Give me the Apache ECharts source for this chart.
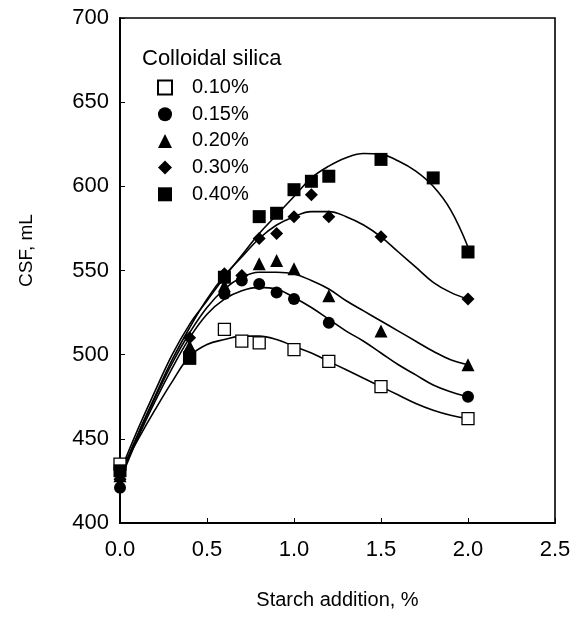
<!DOCTYPE html>
<html>
<head>
<meta charset="utf-8">
<script src="https://cdn.jsdelivr.net/npm/echarts@6/dist/echarts.min.js"></script>
<style>html,body{margin:0;padding:0;background:#fff}#c{width:577px;height:617px}</style>
</head>
<body>
<div id="c"></div>
<script>
// ---- data ----
const seriesNames = ['0.10%', '0.15%', '0.20%', '0.30%', '0.40%'];
const xTicks = [0.0, 0.5, 1.0, 1.5, 2.0, 2.5];
const yTicks = [400, 450, 500, 550, 600, 650, 700];

// measured points [starch %, CSF mL]
const pts010 = [[0,435],[0.4,498],[0.6,515],[0.7,508],[0.8,507],[1.0,503],[1.2,496],[1.5,481],[2.0,462]];
const pts015 = [[0,421],[0.4,501],[0.6,536],[0.7,544],[0.8,542],[0.9,537],[1.0,533],[1.2,519],[2.0,475]];
const pts020 = [[0,428],[0.4,505],[0.6,541],[0.8,554],[0.9,556],[1.0,551],[1.2,535],[1.5,514],[2.0,494]];
const pts030 = [[0,426],[0.4,510],[0.6,548],[0.7,547],[0.8,569],[0.9,572],[1.0,582],[1.1,595],[1.2,582],[1.5,570],[2.0,533]];
const pts040 = [[0,431],[0.4,498],[0.6,546],[0.8,582],[0.9,584],[1.0,598],[1.1,603],[1.2,606],[1.5,616],[1.8,605],[2.0,561]];

// fitted curves
const curveX = [0,0.1,0.2,0.3,0.4,0.5,0.6,0.7,0.8,0.9,1.0,1.1,1.2,1.3,1.4,1.5,1.6,1.7,1.8,1.9,2.0];
const fit010 = [430,449,467,484,499,506,509,511,511,509,505,501,496,491,486,481,476,471,467,464,462];
const fit015 = [425,450,472,492,510,524,533,538,540,539,534,528,521,514,508,501,494,488,482,478,475];
const fit020 = [428,452,474,495,513,528,539,546,549,549,548,544,539,532,526,520,514,508,502,497,494];
const fit030 = [427,452,475,497,516,533,547,558,569,577,582,585,585,582,577,570,561,552,543,537,533];
const fit040 = [430,455,478,500,518,532,546,559,572,583,594,605,612,617,619.5,619,615,609,600,586,564];

const FONT = '"Liberation Sans", Arial, sans-serif';
const pts = [pts010, pts015, pts020, pts030, pts040];
const fits = [fit010, fit015, fit020, fit030, fit040];
const symbols = ['rect', 'circle', 'triangle', 'diamond', 'rect'];
const symSizes = [12, 12, 13, 13, 13];

const series = [];
fits.forEach((f, i) => {
  series.push({
    name: 'fit ' + seriesNames[i],
    type: 'line',
    data: curveX.map((x, k) => [x, f[k]]),
    smooth: 0.4,
    showSymbol: false,
    symbol: 'none',
    silent: true,
    lineStyle: { color: '#000', width: 1.6 },
    z: 2
  });
});
pts.forEach((p, i) => {
  series.push({
    name: seriesNames[i],
    type: 'scatter',
    data: p,
    symbol: symbols[i],
    symbolSize: symSizes[i],
    itemStyle: i === 0
      ? { color: '#fff', borderColor: '#000', borderWidth: 1.3, opacity: 1 }
      : { color: '#000', opacity: 1 },
    z: 5
  });
});

const chart = echarts.init(document.getElementById('c'), null, { renderer: 'canvas' });
chart.setOption({
  animation: false,
  backgroundColor: '#fff',
  textStyle: { fontFamily: FONT, color: '#000' },
  title: {
    text: 'Colloidal silica',
    left: 137, top: 43,
    textStyle: { fontFamily: FONT, fontSize: 22, fontWeight: 'normal', color: '#000' }
  },
  legend: {
    data: seriesNames,
    orient: 'vertical',
    left: 152, top: 72,
    itemWidth: 14, itemHeight: 14,
    itemGap: 5.7,
    textStyle: { fontFamily: FONT, fontSize: 20, color: '#000', lineHeight: 21, padding: [0, 0, 0, 15] }
  },
  grid: {
    left: 120, right: 22, top: 18, bottom: 94,
    show: true, borderColor: '#000', borderWidth: 1.6, backgroundColor: 'transparent'
  },
  xAxis: {
    type: 'value', min: 0, max: 2.5, interval: 0.5,
    name: 'Starch addition, %', nameLocation: 'middle', nameGap: 67,
    nameTextStyle: { fontFamily: FONT, fontSize: 20, color: '#000' },
    axisLine: { lineStyle: { color: '#000', width: 2 } },
    axisTick: { inside: true, length: 5, lineStyle: { color: '#000' } },
    splitLine: { show: false },
    axisLabel: { fontFamily: FONT, fontSize: 22, color: '#000', margin: 16,
      formatter: v => xTicks.includes(v) ? v.toFixed(1) : '' }
  },
  yAxis: {
    type: 'value', min: 400, max: 700, interval: 50,
    name: 'CSF, mL', nameLocation: 'middle', nameGap: 84, nameRotate: 90,
    nameTextStyle: { fontFamily: FONT, fontSize: 19, color: '#000', padding: [0, 0, 0, 40] },
    axisLine: { lineStyle: { color: '#000', width: 2 } },
    axisTick: { inside: true, length: 5, lineStyle: { color: '#000' } },
    splitLine: { show: false },
    axisLabel: { fontFamily: FONT, fontSize: 22, color: '#000', margin: 11,
      formatter: v => yTicks.includes(v) ? String(v) : '' }
  },
  series: series
});
</script>
</body>
</html>
